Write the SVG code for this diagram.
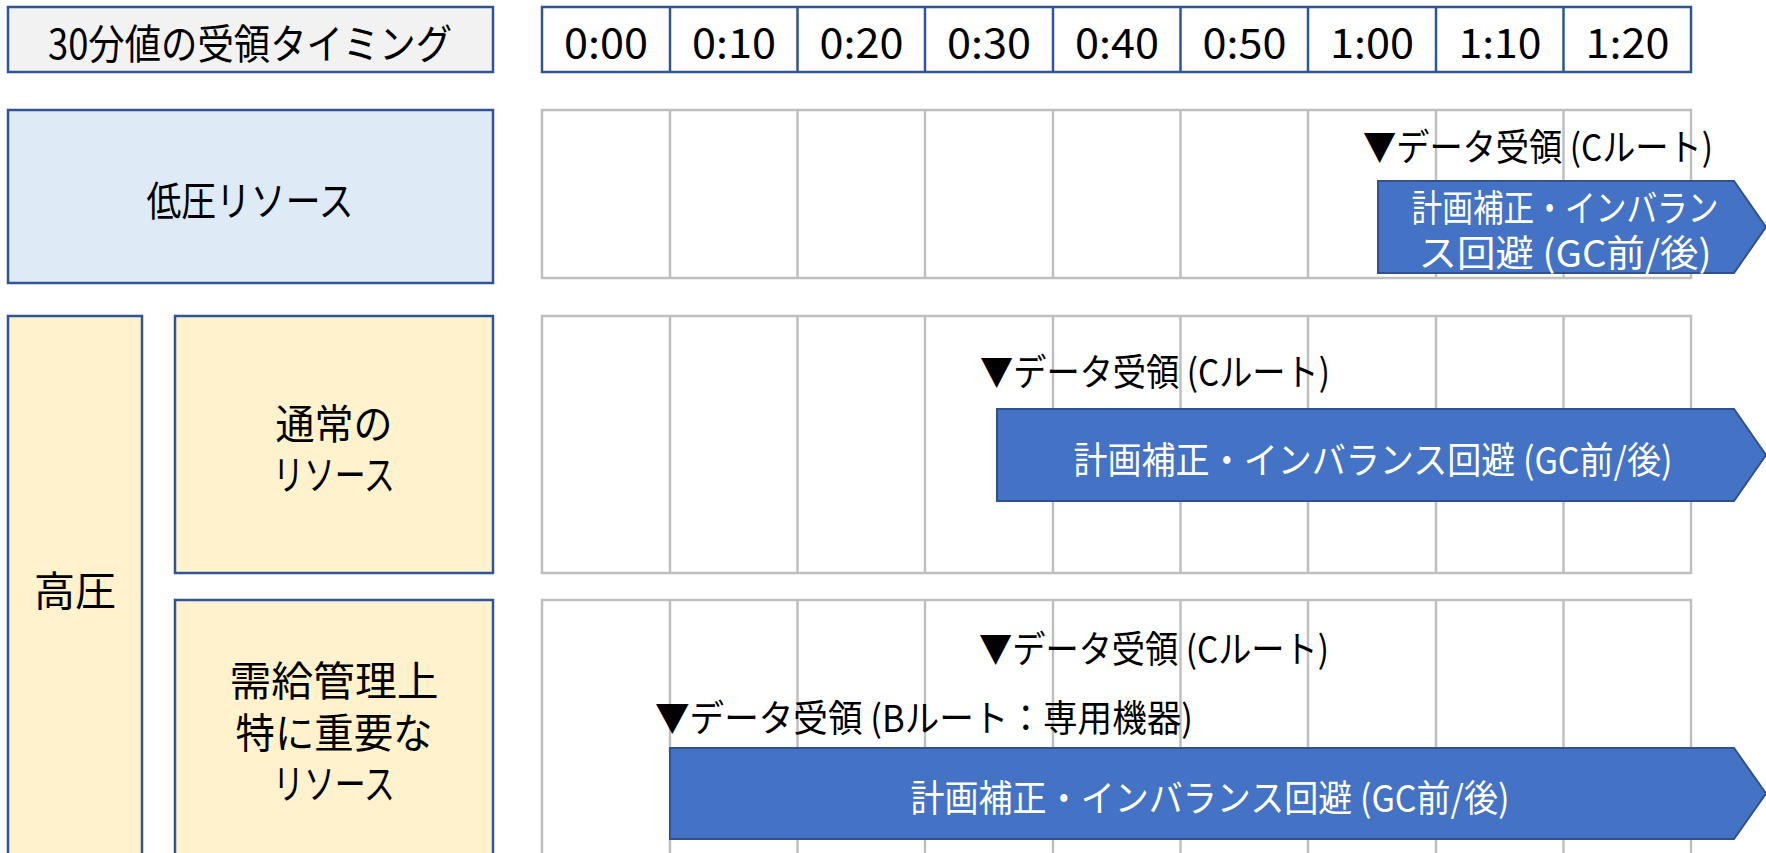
<svg xmlns="http://www.w3.org/2000/svg" width="1766" height="853" viewBox="0 0 1766 853">
<style>
text{font-family:"Noto Sans CJK JP","Noto Sans",sans-serif;fill:#000;dominant-baseline:central;}
.lbl{font-size:41px;text-anchor:middle;}
.tm{font-size:40px;text-anchor:middle;}
.note{font-size:37px;text-anchor:start;}
.bar{font-size:37px;text-anchor:middle;fill:#fff;}
.hdr{fill:#fff;stroke:#2f5597;stroke-width:2.5;}
.box{stroke:#2f5597;stroke-width:2.5;}
.grid{fill:#fff;stroke:#bfbfbf;stroke-width:2.5;}
.gl{stroke:#bfbfbf;stroke-width:2.5;}
.arrow{fill:#4472c4;stroke:#2f528f;stroke-width:2;}
</style>
<rect width="1766" height="853" fill="#fff"/>

<g id="title">
<rect class="box" x="8" y="7" width="485" height="65" fill="#f2f2f2"/>
<text class="lbl" x="250" y="41" textLength="404" lengthAdjust="spacingAndGlyphs">30分値の受領タイミング</text>
</g>

<g id="timeline-header">
<rect class="hdr" x="542" y="7" width="1149" height="65"/>
<g stroke="#2f5597" stroke-width="2.5">
<line x1="670" y1="7" x2="670" y2="72"/><line x1="797.5" y1="7" x2="797.5" y2="72"/>
<line x1="925" y1="7" x2="925" y2="72"/><line x1="1053" y1="7" x2="1053" y2="72"/>
<line x1="1180.5" y1="7" x2="1180.5" y2="72"/><line x1="1308" y1="7" x2="1308" y2="72"/>
<line x1="1436" y1="7" x2="1436" y2="72"/><line x1="1563.5" y1="7" x2="1563.5" y2="72"/>
</g>
<text class="tm" x="606" y="41" textLength="84" lengthAdjust="spacingAndGlyphs">0:00</text>
<text class="tm" x="734" y="41" textLength="84" lengthAdjust="spacingAndGlyphs">0:10</text>
<text class="tm" x="861.5" y="41" textLength="84" lengthAdjust="spacingAndGlyphs">0:20</text>
<text class="tm" x="989" y="41" textLength="84" lengthAdjust="spacingAndGlyphs">0:30</text>
<text class="tm" x="1117" y="41" textLength="84" lengthAdjust="spacingAndGlyphs">0:40</text>
<text class="tm" x="1244.5" y="41" textLength="84" lengthAdjust="spacingAndGlyphs">0:50</text>
<text class="tm" x="1372" y="41" textLength="84" lengthAdjust="spacingAndGlyphs">1:00</text>
<text class="tm" x="1500" y="41" textLength="83" lengthAdjust="spacingAndGlyphs">1:10</text>
<text class="tm" x="1627.5" y="41" textLength="84" lengthAdjust="spacingAndGlyphs">1:20</text>
</g>

<g id="low-voltage">
<rect class="box" x="8" y="110" width="485" height="173" fill="#deebf7"/>
<text class="lbl" x="250" y="198" textLength="207" lengthAdjust="spacingAndGlyphs">低圧リソース</text>
</g>

<g id="high-voltage">
<rect class="box" x="8" y="316" width="134" height="550" fill="#fff2cc"/>
<text class="lbl" x="75" y="588">高圧</text>
</g>

<g id="normal-resource">
<rect class="box" x="175" y="316" width="318" height="257" fill="#fff2cc"/>
<text class="lbl"><tspan x="334" y="421" textLength="117" lengthAdjust="spacingAndGlyphs">通常の</tspan><tspan x="334" y="472" textLength="122" lengthAdjust="spacingAndGlyphs">リソース</tspan></text>
</g>

<g id="important-resource">
<rect class="box" x="175" y="600" width="318" height="266" fill="#fff2cc"/>
<text class="lbl"><tspan x="334" y="678" textLength="209" lengthAdjust="spacingAndGlyphs">需給管理上</tspan><tspan x="334" y="730" textLength="197" lengthAdjust="spacingAndGlyphs">特に重要な</tspan><tspan x="334" y="781" textLength="122" lengthAdjust="spacingAndGlyphs">リソース</tspan></text>
</g>

<g id="grid-low">
<rect class="grid" x="542" y="110" width="1149" height="168"/>
<g class="gl">
<line x1="670" y1="110" x2="670" y2="278"/><line x1="797.5" y1="110" x2="797.5" y2="278"/>
<line x1="925" y1="110" x2="925" y2="278"/><line x1="1053" y1="110" x2="1053" y2="278"/>
<line x1="1180.5" y1="110" x2="1180.5" y2="278"/><line x1="1308" y1="110" x2="1308" y2="278"/>
<line x1="1436" y1="110" x2="1436" y2="278"/><line x1="1563.5" y1="110" x2="1563.5" y2="278"/>
</g>
</g>

<g id="grid-normal">
<rect class="grid" x="542" y="316" width="1149" height="257"/>
<g class="gl">
<line x1="670" y1="316" x2="670" y2="573"/><line x1="797.5" y1="316" x2="797.5" y2="573"/>
<line x1="925" y1="316" x2="925" y2="573"/><line x1="1053" y1="316" x2="1053" y2="573"/>
<line x1="1180.5" y1="316" x2="1180.5" y2="573"/><line x1="1308" y1="316" x2="1308" y2="573"/>
<line x1="1436" y1="316" x2="1436" y2="573"/><line x1="1563.5" y1="316" x2="1563.5" y2="573"/>
</g>
</g>

<g id="grid-important">
<rect class="grid" x="542" y="600" width="1149" height="266"/>
<g class="gl">
<line x1="670" y1="600" x2="670" y2="866"/><line x1="797.5" y1="600" x2="797.5" y2="866"/>
<line x1="925" y1="600" x2="925" y2="866"/><line x1="1053" y1="600" x2="1053" y2="866"/>
<line x1="1180.5" y1="600" x2="1180.5" y2="866"/><line x1="1308" y1="600" x2="1308" y2="866"/>
<line x1="1436" y1="600" x2="1436" y2="866"/><line x1="1563.5" y1="600" x2="1563.5" y2="866"/>
</g>
</g>

<g id="bar-low">
<text class="note" x="1363" y="145" textLength="350" lengthAdjust="spacingAndGlyphs">▼データ受領 (Cルート)</text>
<polygon class="arrow" points="1378,181 1734,181 1766,227 1734,273 1378,273"/>
<text class="bar"><tspan x="1565" y="206" textLength="307" lengthAdjust="spacingAndGlyphs">計画補正・インバラン</tspan><tspan x="1565" y="251" textLength="293" lengthAdjust="spacingAndGlyphs">ス回避 (GC前/後)</tspan></text>
</g>

<g id="bar-normal">
<text class="note" x="980" y="370" textLength="350" lengthAdjust="spacingAndGlyphs">▼データ受領 (Cルート)</text>
<polygon class="arrow" points="997,409 1734,409 1766,455 1734,501 997,501"/>
<text class="bar" x="1373" y="458" textLength="599" lengthAdjust="spacingAndGlyphs">計画補正・インバランス回避 (GC前/後)</text>
</g>

<g id="bar-important">
<text class="note" x="979" y="647" textLength="350" lengthAdjust="spacingAndGlyphs">▼データ受領 (Cルート)</text>
<text class="note" x="655" y="716" textLength="538" lengthAdjust="spacingAndGlyphs">▼データ受領 (Bルート：専用機器)</text>
<polygon class="arrow" points="670,748 1734,748 1766,793.5 1734,839 670,839"/>
<text class="bar" x="1210" y="796" textLength="599" lengthAdjust="spacingAndGlyphs">計画補正・インバランス回避 (GC前/後)</text>
</g>

<g id="connectors"/>
</svg>
